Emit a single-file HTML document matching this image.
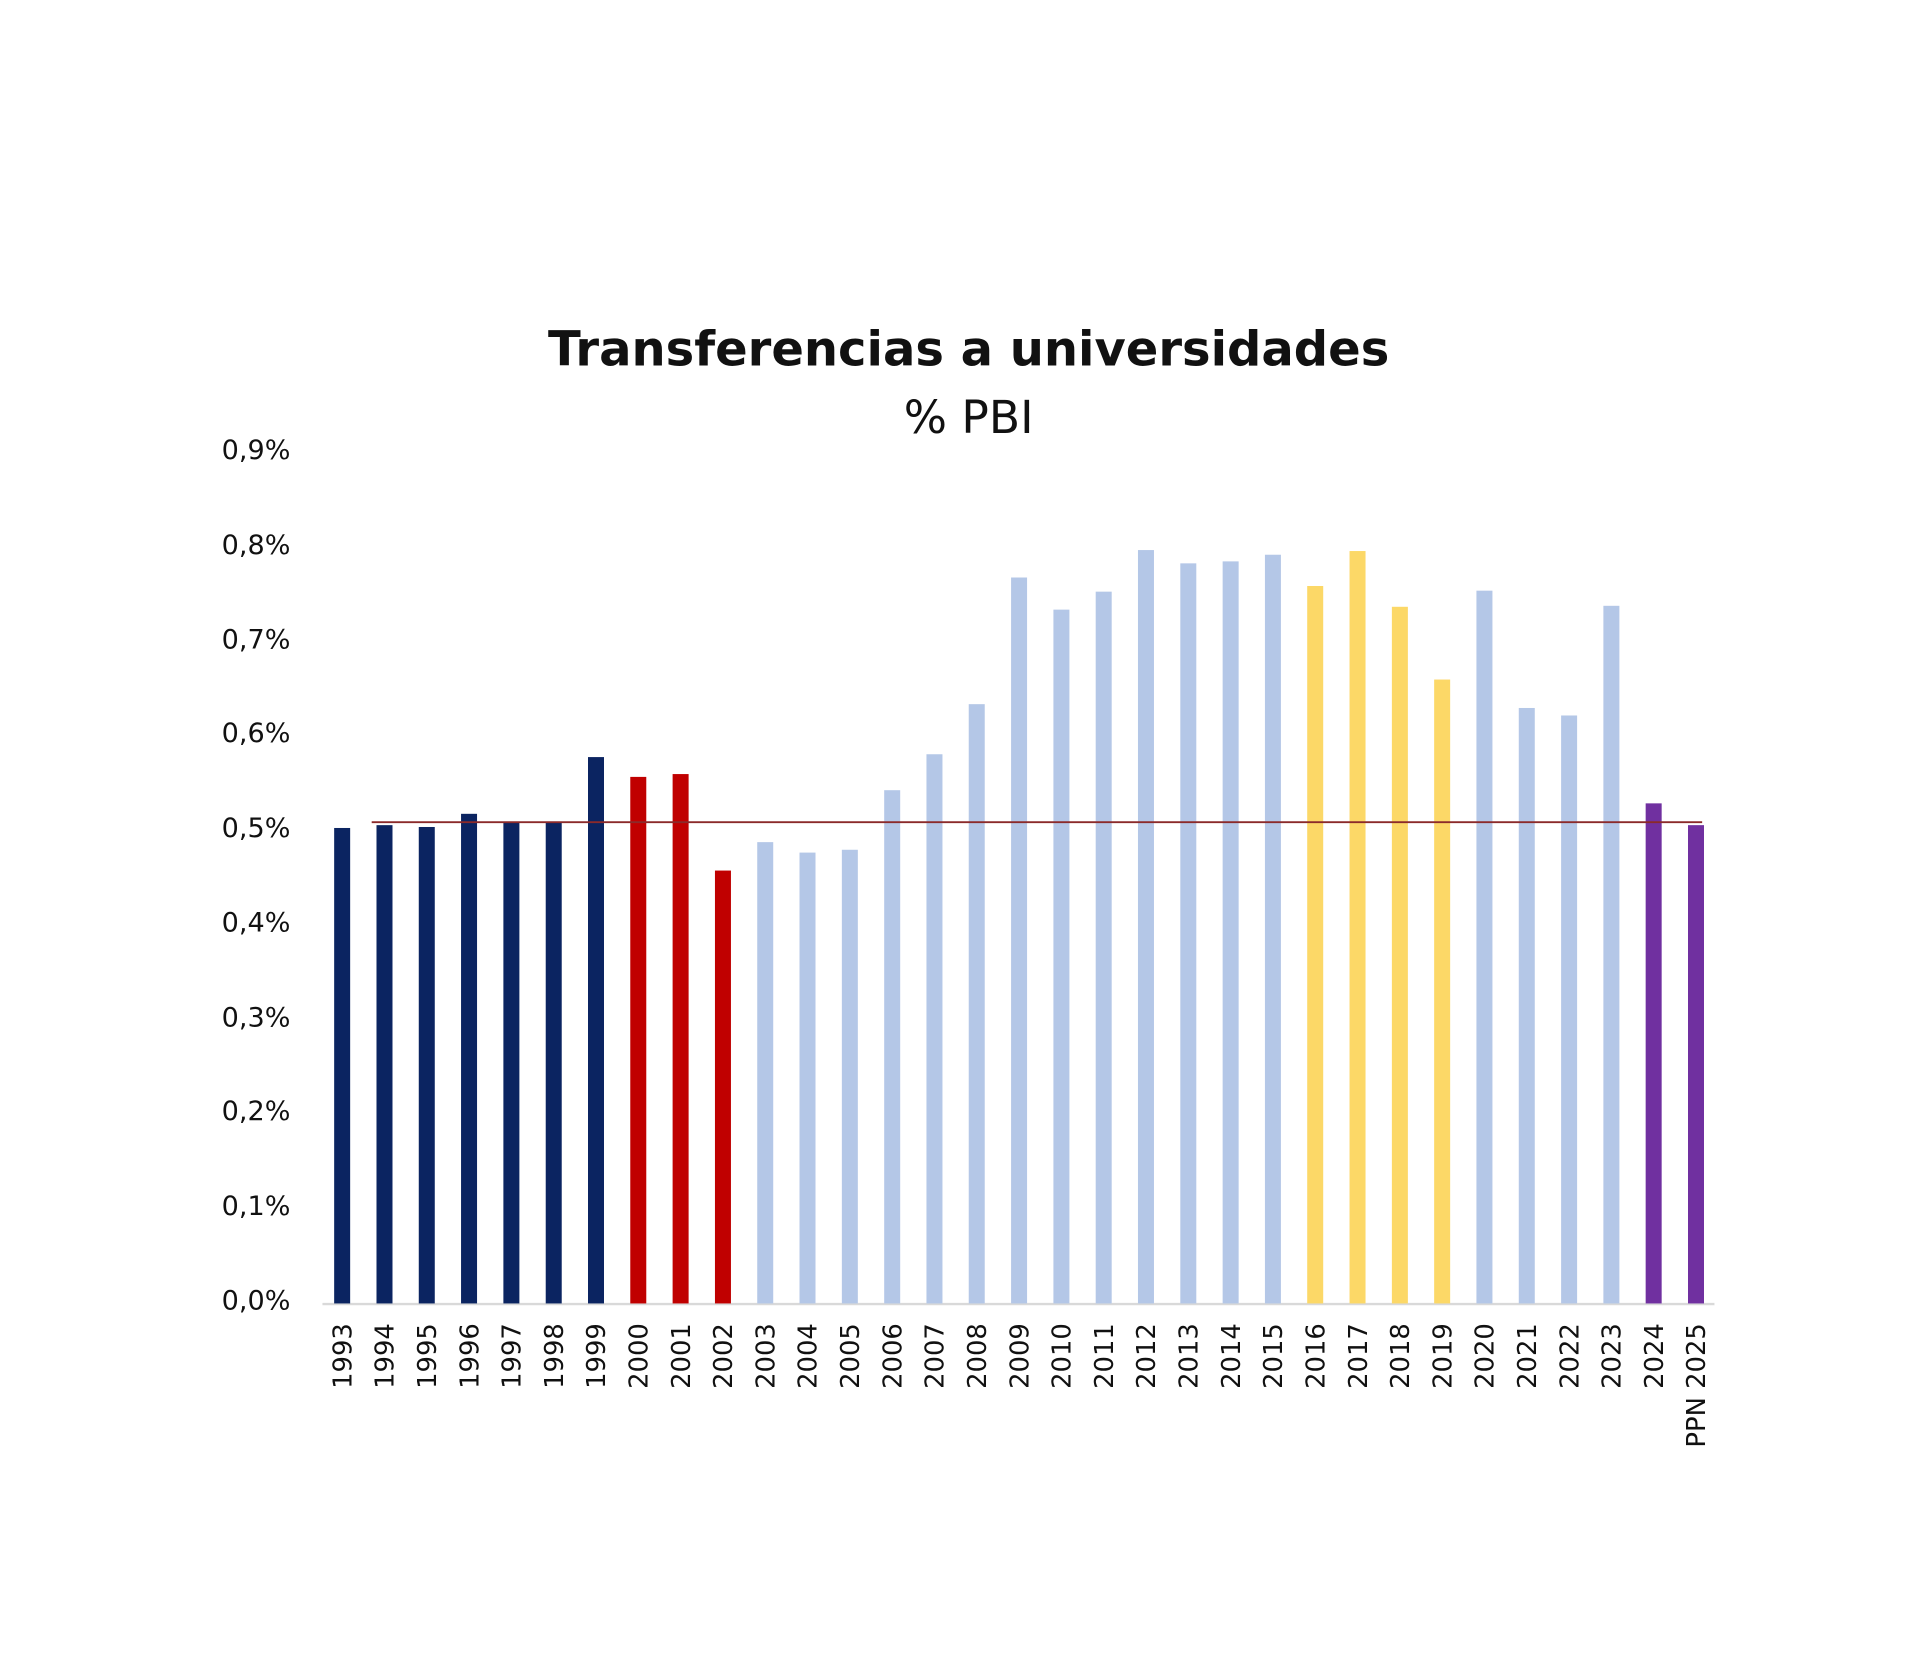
<!DOCTYPE html>
<html><head><meta charset="utf-8"><style>
html,body{margin:0;padding:0;background:#fff;}
svg{display:block;}
text{font-family:"DejaVu Sans","Liberation Sans",sans-serif;fill:#111;}
</style></head><body>
<svg width="1920" height="1669" viewBox="0 0 1560 1356" preserveAspectRatio="none" xmlns="http://www.w3.org/2000/svg">
<rect width="1560" height="1356" fill="#fff"/>
<text x="787" y="297" font-size="39" font-weight="bold" text-anchor="middle">Transferencias a universidades</text>
<text x="787" y="352" font-size="37" text-anchor="middle">% PBI</text>
<g font-size="22" text-anchor="end">
<text x="236" y="1064">0,0%</text>
<text x="236" y="987">0,1%</text>
<text x="236" y="910">0,2%</text>
<text x="236" y="834">0,3%</text>
<text x="236" y="757">0,4%</text>
<text x="236" y="680">0,5%</text>
<text x="236" y="603">0,6%</text>
<text x="236" y="527">0,7%</text>
<text x="236" y="450">0,8%</text>
<text x="236" y="373">0,9%</text>
</g>
<line x1="262" y1="1059.5" x2="1393" y2="1059.5" stroke="#d9d9d9" stroke-width="2"/>
<g fill="#0b2461">
<rect x="271.5" y="672.7" width="13" height="386.3"/>
<rect x="305.9" y="670.4" width="13" height="388.6"/>
<rect x="340.25" y="671.9" width="13" height="387.1"/>
<rect x="374.6" y="661.2" width="13" height="397.8"/>
<rect x="409.0" y="668.1" width="13" height="390.9"/>
<rect x="443.4" y="668.1" width="13" height="390.9"/>
<rect x="477.75" y="615.1" width="13" height="443.9"/>
</g>
<g fill="#c00000">
<rect x="512.1" y="631.2" width="13" height="427.8"/>
<rect x="546.5" y="628.9" width="13" height="430.1"/>
<rect x="580.9" y="707.3" width="13" height="351.7"/>
</g>
<g fill="#b4c7e7">
<rect x="615.25" y="684.2" width="13" height="374.8"/>
<rect x="649.6" y="692.7" width="13" height="366.3"/>
<rect x="684.0" y="690.4" width="13" height="368.6"/>
<rect x="718.4" y="642.0" width="13" height="417.0"/>
<rect x="752.75" y="612.8" width="13" height="446.2"/>
<rect x="787.1" y="572.1" width="13" height="486.9"/>
<rect x="821.5" y="469.2" width="13" height="589.8"/>
<rect x="855.9" y="495.3" width="13" height="563.7"/>
<rect x="890.25" y="480.7" width="13" height="578.3"/>
<rect x="924.6" y="446.9" width="13" height="612.1"/>
<rect x="959.0" y="457.7" width="13" height="601.3"/>
<rect x="993.4" y="456.1" width="13" height="602.9"/>
<rect x="1027.75" y="450.7" width="13" height="608.3"/>
<rect x="1199.6" y="479.9" width="13" height="579.1"/>
<rect x="1234.0" y="575.2" width="13" height="483.8"/>
<rect x="1268.4" y="581.3" width="13" height="477.7"/>
<rect x="1302.75" y="492.2" width="13" height="566.8"/>
</g>
<g fill="#fcd867">
<rect x="1062.1" y="476.1" width="13" height="582.9"/>
<rect x="1096.5" y="447.7" width="13" height="611.3"/>
<rect x="1130.9" y="493.0" width="13" height="566.0"/>
<rect x="1165.25" y="552.1" width="13" height="506.9"/>
</g>
<g fill="#7030a0">
<rect x="1337.1" y="652.7" width="13" height="406.3"/>
<rect x="1371.5" y="670.4" width="13" height="388.6"/>
</g>
<line x1="302" y1="668" x2="1383" y2="668" stroke="#8b2a2a" stroke-width="1.5"/>
<g font-size="21" text-anchor="end">
<text transform="translate(285.5,1075) rotate(-90)">1993</text>
<text transform="translate(319.9,1075) rotate(-90)">1994</text>
<text transform="translate(354.25,1075) rotate(-90)">1995</text>
<text transform="translate(388.6,1075) rotate(-90)">1996</text>
<text transform="translate(423.0,1075) rotate(-90)">1997</text>
<text transform="translate(457.4,1075) rotate(-90)">1998</text>
<text transform="translate(491.75,1075) rotate(-90)">1999</text>
<text transform="translate(526.1,1075) rotate(-90)">2000</text>
<text transform="translate(560.5,1075) rotate(-90)">2001</text>
<text transform="translate(594.9,1075) rotate(-90)">2002</text>
<text transform="translate(629.25,1075) rotate(-90)">2003</text>
<text transform="translate(663.6,1075) rotate(-90)">2004</text>
<text transform="translate(698.0,1075) rotate(-90)">2005</text>
<text transform="translate(732.4,1075) rotate(-90)">2006</text>
<text transform="translate(766.75,1075) rotate(-90)">2007</text>
<text transform="translate(801.1,1075) rotate(-90)">2008</text>
<text transform="translate(835.5,1075) rotate(-90)">2009</text>
<text transform="translate(869.9,1075) rotate(-90)">2010</text>
<text transform="translate(904.25,1075) rotate(-90)">2011</text>
<text transform="translate(938.6,1075) rotate(-90)">2012</text>
<text transform="translate(973.0,1075) rotate(-90)">2013</text>
<text transform="translate(1007.4,1075) rotate(-90)">2014</text>
<text transform="translate(1041.75,1075) rotate(-90)">2015</text>
<text transform="translate(1076.1,1075) rotate(-90)">2016</text>
<text transform="translate(1110.5,1075) rotate(-90)">2017</text>
<text transform="translate(1144.9,1075) rotate(-90)">2018</text>
<text transform="translate(1179.25,1075) rotate(-90)">2019</text>
<text transform="translate(1213.6,1075) rotate(-90)">2020</text>
<text transform="translate(1248.0,1075) rotate(-90)">2021</text>
<text transform="translate(1282.4,1075) rotate(-90)">2022</text>
<text transform="translate(1316.75,1075) rotate(-90)">2023</text>
<text transform="translate(1351.1,1075) rotate(-90)">2024</text>
<text transform="translate(1385.5,1075) rotate(-90)">PPN 2025</text>
</g>
</svg>
</body></html>
